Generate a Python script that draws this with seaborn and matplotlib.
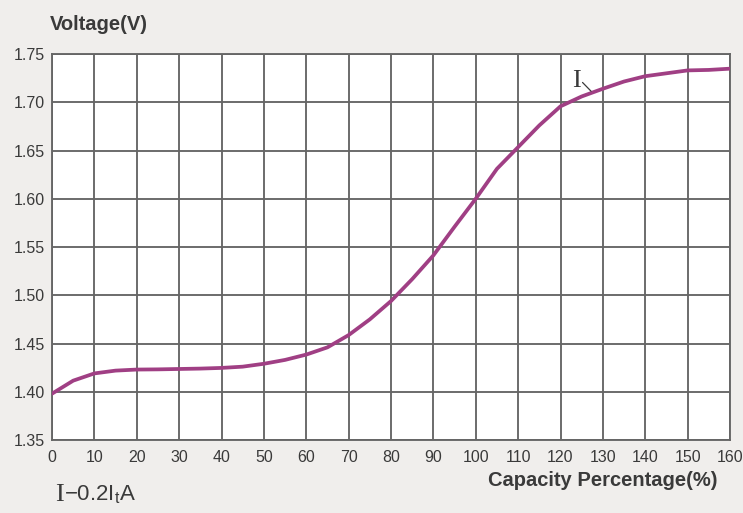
import matplotlib
matplotlib.use("Agg")
import matplotlib.pyplot as plt
import seaborn as sns
import pandas as pd

# ---- data ----
capacity = [0, 5, 10, 15, 20, 25, 30, 35, 40, 45, 50, 55, 60, 65, 70, 75, 80,
            85, 90, 95, 100, 105, 110, 115, 120, 125, 130, 135, 140, 145, 150, 155, 160]
voltage = [1.398, 1.4115, 1.419, 1.4219, 1.423, 1.4232, 1.4236, 1.424, 1.4247, 1.426,
           1.429, 1.433, 1.4385, 1.446, 1.4587, 1.475, 1.494, 1.5167, 1.5413, 1.571,
           1.600, 1.631, 1.6535, 1.676, 1.6958, 1.706, 1.714, 1.7215, 1.727, 1.730,
           1.733, 1.7335, 1.7348]
x_ticks = list(range(0, 161, 10))
y_ticks = [1.35, 1.40, 1.45, 1.50, 1.55, 1.60, 1.65, 1.70, 1.75]
y_tick_labels = ["1.35", "1.40", "1.45", "1.50", "1.55", "1.60", "1.65", "1.70", "1.75"]

df = pd.DataFrame({"capacity": capacity, "voltage": voltage})

sns.set_theme(style="white")
plt.rcParams["font.family"] = ["Liberation Sans", "DejaVu Sans"]

W, H = 743, 513
fig = plt.figure(figsize=(W / 100, H / 100), dpi=100)
bg = "#f0eeec"
fig.patch.set_facecolor(bg)
ax = fig.add_axes([52 / W, 1 - 440 / H, (730 - 52) / W, (440 - 54) / H])
ax.set_facecolor("white")

grid_c = "#666666"
text_c = "#3a3a3a"
curve_c = "#a03f84"

sns.lineplot(data=df, x="capacity", y="voltage", ax=ax, color=curve_c,
             linewidth=2.7, zorder=3, solid_joinstyle="round", solid_capstyle="round")

ax.set_xlim(0, 160)
ax.set_ylim(1.35, 1.75)
ax.set_xticks(x_ticks)
ax.set_yticks(y_ticks)
ax.set_yticklabels(y_tick_labels)
ax.grid(True, color=grid_c, linewidth=1.35, zorder=1)
for s in ax.spines.values():
    s.set_color(grid_c)
    s.set_linewidth(1.35)
ax.tick_params(axis="both", length=0, labelsize=11.5, colors=text_c)
ax.tick_params(axis="y", pad=5)
ax.tick_params(axis="x", pad=7)
ax.set_xlabel("")
ax.set_ylabel("")

fig.text(50 / W, 1 - 24 / H, "Voltage(V)", fontsize=14.5, fontweight="bold",
         color=text_c, ha="left", va="center")
fig.text(718 / W, 1 - 480 / H, "Capacity Percentage(%)", fontsize=14.5,
         fontweight="bold", color=text_c, ha="right", va="center")

# bottom-left current label
fig.text(55 / W, 1 - 495 / H, "I", fontsize=19, family=["Liberation Serif", "DejaVu Serif"],
         color=text_c, ha="left", va="center")
fig.text(64 / W, 1 - 495 / H, "\u22120.2I$_\\mathregular{t}$A", fontsize=16,
         color=text_c, ha="left", va="center")

# curve label
ax.text(123.8, 1.7225, "I", fontsize=19, family=["Liberation Serif", "DejaVu Serif"],
        color=text_c, ha="center", va="center", zorder=4)
ax.plot([125.2, 127.2], [1.7205, 1.7115], color=text_c, linewidth=0.9, zorder=4)

fig.savefig("out.png", dpi=100, facecolor=bg)
